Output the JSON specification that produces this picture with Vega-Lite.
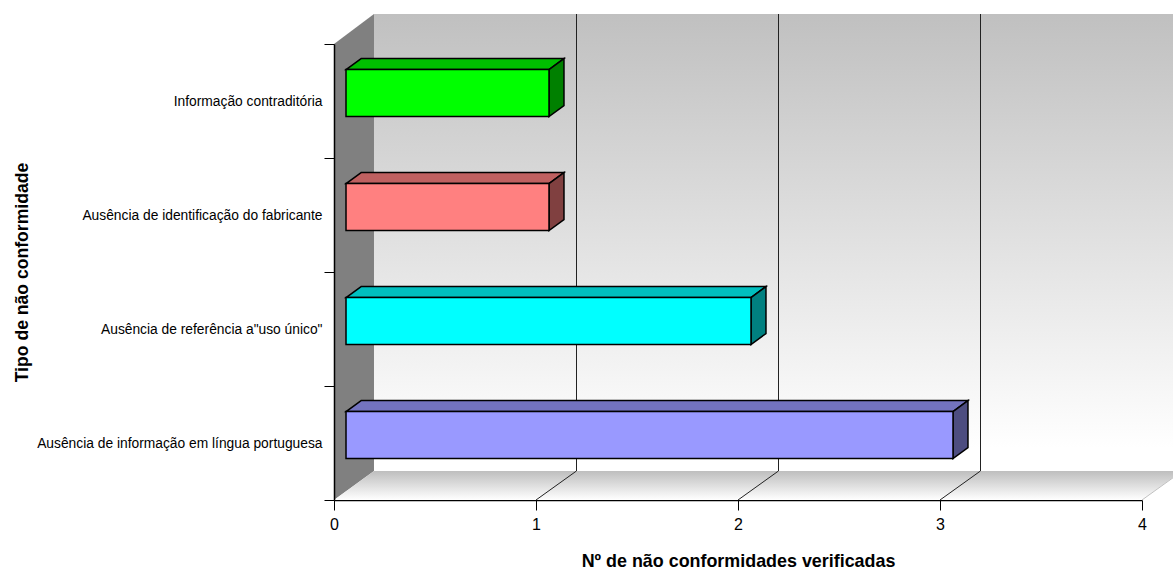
{
"$schema":"https://vega.github.io/schema/vega-lite/v6.json",
"width":808,"height":456,
"autosize":{"type":"none"},
"padding":{"left":334,"top":44,"right":31,"bottom":69},
"background":"#ffffff",
"config":{"view":{"stroke":null},"axis":{"labelFont":"Liberation Sans","titleFont":"Liberation Sans","labelColor":"#000000","titleColor":"#000000","domainColor":"#000000","tickColor":"#000000","grid":false},
"axisQuantitative":{"labelFontSize":16,"labelFlush":false},
"axisX":{"titleFontSize":17.9,"titleFontWeight":"bold","titlePadding":20,"labelFontSize":16,"labelFlush":false,"labelPadding":6,"labelAngle":0,"tickSize":10,"tickWidth":1,"domainWidth":1.5,"zindex":1,"format":"d"}},
"datasets":{
"bars":[
{"tipo":"Informação contraditória","n":1,"lugar":3,"base":0},
{"tipo":"Ausência de identificação do fabricante","n":1,"lugar":2,"base":0},
{"tipo":"Ausência de referência a\"uso único\"","n":2,"lugar":1,"base":0},
{"tipo":"Ausência de informação em língua portuguesa","n":3,"lugar":0,"base":0}
],
"edge":[{"d":0},{"d":1}],
"wall":[{"lo":0,"hi":4}],
"grid":[{"t":1,"lo":0,"hi":4,"fl":0.254},{"t":2,"lo":0,"hi":4,"fl":0.254},{"t":3,"lo":0,"hi":4,"fl":0.254}],
"gridEnd":[{"t":4,"lo":0,"fl":0.254}]
},
"layer":[
{"data":{"name":"wall"},
 "mark":{"type":"rect","xOffset":40,"x2Offset":40,"yOffset":-30,"y2Offset":-29,
  "fill":{"gradient":"linear","x1":0,"y1":0,"x2":0,"y2":1,"stops":[{"offset":0,"color":"#c0c0c0"},{"offset":0.95,"color":"#ffffff"},{"offset":1,"color":"#ffffff"}]}},
 "encoding":{"x":{"field":"lo","type":"quantitative","scale":{"domain":[0,4],"nice":false,"zero":false},"axis":{"values":[0,1,2,3,4],"title":"Nº de não conformidades verificadas"}},"x2":{"field":"hi"},
  "y":{"field":"hi","type":"quantitative","scale":{"domain":[0,4],"nice":false,"zero":false},"axis":null},"y2":{"field":"lo"}}},
{"data":{"name":"edge"},
 "transform":[{"calculate":"datum.d*0.198","as":"x"},{"calculate":"4+datum.d*0.263","as":"yt"},{"calculate":"datum.d*0.254","as":"yb"}],
 "mark":{"type":"area","fill":"#808080","orient":"vertical"},
 "encoding":{"x":{"field":"x","type":"quantitative","axis":{"values":[0,1,2,3,4],"title":"Nº de não conformidades verificadas"}},"y":{"field":"yt","type":"quantitative","scale":{"domain":[0,4],"nice":false,"zero":false},"axis":null},"y2":{"field":"yb"}}},
{"data":{"name":"edge"},
 "transform":[{"calculate":"datum.d*0.198","as":"x"},{"calculate":"4+datum.d*0.198","as":"x2"},{"calculate":"datum.d*0.254","as":"y"}],
 "mark":{"type":"area","orient":"horizontal",
  "fill":{"gradient":"linear","x1":0,"y1":0,"x2":0,"y2":1,"stops":[{"offset":0,"color":"#bebebe"},{"offset":1,"color":"#ffffff"}]}},
 "encoding":{"x":{"field":"x","type":"quantitative","axis":{"values":[0,1,2,3,4],"title":"Nº de não conformidades verificadas"}},"x2":{"field":"x2"},"y":{"field":"y","type":"quantitative","scale":{"domain":[0,4],"nice":false,"zero":false},"axis":null}}},
{"data":{"name":"grid"},
 "mark":{"type":"rule","color":"#222222","strokeWidth":1,"xOffset":40.5,"yOffset":-29,"y2Offset":-30},
 "encoding":{"x":{"field":"t","type":"quantitative","axis":{"values":[0,1,2,3,4],"title":"Nº de não conformidades verificadas"}},"y":{"field":"lo","type":"quantitative","scale":{"domain":[0,4],"nice":false,"zero":false},"axis":null},"y2":{"field":"hi"}}},
{"data":{"name":"grid"},
 "transform":[{"calculate":"datum.t+0.2","as":"tb"}],
 "mark":{"type":"rule","color":"#222222","strokeWidth":1},
 "encoding":{"x":{"field":"t","type":"quantitative","axis":{"values":[0,1,2,3,4],"title":"Nº de não conformidades verificadas"}},"x2":{"field":"tb"},"y":{"field":"lo","type":"quantitative","scale":{"domain":[0,4],"nice":false,"zero":false},"axis":null},"y2":{"field":"fl"}}},
{"data":{"name":"gridEnd"},
 "transform":[{"calculate":"datum.t+0.2","as":"tb"}],
 "mark":{"type":"rule","color":"#c0c0c0","strokeWidth":1},
 "encoding":{"x":{"field":"t","type":"quantitative","axis":{"values":[0,1,2,3,4],"title":"Nº de não conformidades verificadas"}},"x2":{"field":"tb"},"y":{"field":"lo","type":"quantitative","scale":{"domain":[0,4],"nice":false,"zero":false},"axis":null},"y2":{"field":"fl"}}},
{"data":{"name":"bars"},
 "transform":[{"calculate":"[0,1]","as":"d"},{"flatten":["d"]},
  {"calculate":"0.06+datum.d*0.0742","as":"x"},{"calculate":"datum.n+0.0643+datum.d*0.0742","as":"x2"},{"calculate":"datum.lugar+0.776+datum.d*0.0965","as":"y"}],
 "mark":{"type":"area","orient":"horizontal","stroke":"#000000","strokeWidth":1.5,"strokeJoin":"miter"},
 "encoding":{"x":{"field":"x","type":"quantitative","axis":{"values":[0,1,2,3,4],"title":"Nº de não conformidades verificadas"}},"x2":{"field":"x2"},"y":{"field":"y","type":"quantitative","scale":{"domain":[0,4],"nice":false,"zero":false},"axis":null},
  "fill":{"field":"tipo","type":"nominal","legend":null,"scale":{"domain":["Informação contraditória","Ausência de identificação do fabricante","Ausência de referência a\"uso único\"","Ausência de informação em língua portuguesa"],"range":["#00bf00","#bf6060","#00bfbf","#7373bf"]}}}},
{"data":{"name":"bars"},
 "transform":[{"calculate":"[0,1]","as":"d"},{"flatten":["d"]},
  {"calculate":"datum.n+0.0643+datum.d*0.0742","as":"x"},{"calculate":"datum.lugar+0.776+datum.d*0.0965","as":"yt"},{"calculate":"datum.lugar+0.364+datum.d*0.0965","as":"yb"}],
 "mark":{"type":"area","orient":"vertical","stroke":"#000000","strokeWidth":1.5,"strokeJoin":"miter"},
 "encoding":{"x":{"field":"x","type":"quantitative","axis":{"values":[0,1,2,3,4],"title":"Nº de não conformidades verificadas"}},"y":{"field":"yt","type":"quantitative","scale":{"domain":[0,4],"nice":false,"zero":false},"axis":null},"y2":{"field":"yb"},
  "fill":{"field":"tipo","type":"nominal","legend":null,"scale":{"domain":["Informação contraditória","Ausência de identificação do fabricante","Ausência de referência a\"uso único\"","Ausência de informação em língua portuguesa"],"range":["#008000","#804040","#008080","#4d4d80"]}}}},
{"data":{"name":"bars"},
 "mark":{"type":"rect","height":47,"yOffset":-8,"xOffset":12,"x2Offset":13,"stroke":"#000000","strokeWidth":1.5},
 "encoding":{"x":{"field":"base","type":"quantitative","axis":{"values":[0,1,2,3,4],"title":"Nº de não conformidades verificadas"}},"x2":{"field":"n"},
  "y":{"field":"tipo","type":"nominal","sort":["Informação contraditória","Ausência de identificação do fabricante","Ausência de referência a\"uso único\"","Ausência de informação em língua portuguesa"],"scale":{"paddingInner":0,"paddingOuter":0},
   "axis":{"orient":"left","title":"Tipo de não conformidade","titleFontSize":17.6,"titleFontWeight":"bold","titleX":-303,"labelFontSize":13.8,"labelLimit":400,"labelPadding":2,"tickBand":"extent","tickSize":10,"tickWidth":1,"domainWidth":1.5,"zindex":1}},
  "fill":{"field":"tipo","type":"nominal","legend":null,"scale":{"domain":["Informação contraditória","Ausência de identificação do fabricante","Ausência de referência a\"uso único\"","Ausência de informação em língua portuguesa"],"range":["#00ff00","#ff8080","#00ffff","#9999ff"]}}}}
],
"resolve":{"scale":{"y":"independent","fill":"independent"}}
}
